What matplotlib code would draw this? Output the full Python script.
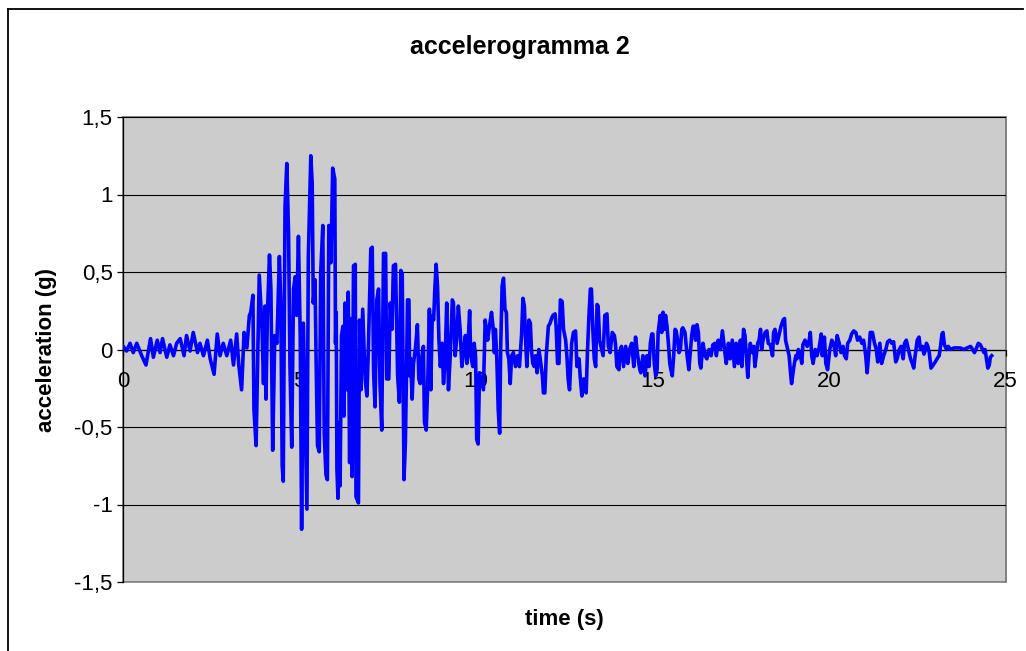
import matplotlib.pyplot as plt
from matplotlib.patches import Rectangle
from matplotlib.lines import Line2D
from matplotlib.ticker import FuncFormatter

plt.rcParams['font.family'] = ['Liberation Sans', 'DejaVu Sans']

# time (s) / acceleration (g), peak by peak
t_start = [0.01, 0.10, 0.20, 0.29, 0.39, 0.53, 0.65, 0.78, 0.86, 0.97, 1.05, 1.12,
           1.24, 1.33, 1.43, 1.52, 1.62, 1.73, 1.80, 1.90, 1.99, 2.11, 2.18, 2.28,
           2.39, 2.47, 2.58, 2.67, 2.75, 2.84, 2.94, 3.05, 3.13, 3.22, 3.28, 3.36,
           3.43, 3.51, 3.58]
a_start = [0.02, -0.01, 0.04, -0.02, 0.04, -0.04, -0.10, 0.07, -0.05, 0.06, -0.02, 0.07,
           -0.05, 0.03, -0.04, 0.04, 0.07, -0.04, 0.09, -0.01, 0.11, -0.02, 0.04, -0.04,
           0.06, -0.06, -0.16, 0.10, -0.04, 0.04, -0.04, 0.06, -0.10, 0.10, -0.10, -0.26,
           0.11, 0.01, 0.22]

t_strong = [3.62, 3.68, 3.71, 3.77, 3.86, 3.94, 3.98, 4.02, 4.05, 4.09, 4.15, 4.19,
            4.24, 4.30, 4.36, 4.43, 4.47, 4.51, 4.54, 4.59, 4.64, 4.69, 4.73, 4.78,
            4.83, 4.88, 4.92, 4.97, 5.02, 5.06, 5.11, 5.16, 5.21, 5.25, 5.32, 5.36,
            5.39, 5.44, 5.47, 5.51, 5.56, 5.60, 5.66, 5.70, 5.75, 5.79, 5.83, 5.89,
            5.94, 6.00, 6.02, 6.04, 6.06, 6.09, 6.13, 6.15, 6.19, 6.23, 6.26, 6.29,
            6.34, 6.38, 6.42, 6.45, 6.49, 6.53, 6.58, 6.60, 6.67, 6.70, 6.74, 6.79,
            6.86, 6.91, 6.95, 7.02, 7.06, 7.10, 7.14, 7.19, 7.24, 7.28, 7.33, 7.38,
            7.44, 7.47, 7.53, 7.57, 7.62, 7.66, 7.72, 7.78, 7.83]
a_strong = [0.24, 0.35, -0.39, -0.62, 0.48, 0.13, -0.22, 0.28, -0.32, 0.22, 0.61, 0.39,
            -0.65, 0.09, 0.04, 0.60, 0.30, -0.75, -0.85, 0.92, 1.20, 0.75, -0.11, -0.63,
            0.39, 0.47, 0.22, 0.73, 0.09, -1.16, 0.17, -0.43, -1.03, 0.60, 1.25, 1.07,
            0.30, 0.45, -0.06, -0.62, -0.66, 0.49, 0.80, -0.54, -0.81, -0.84, 0.80, 0.56,
            1.17, 1.10, 0.04, 0.24, -0.77, -0.96, -0.47, -0.88, 0.09, 0.15, -0.43, 0.30,
            -0.26, 0.37, -0.73, 0.20, -0.82, 0.54, 0.55, -0.95, -0.99, 0.19, -0.26, 0.26,
            -0.19, -0.30, 0.00, 0.65, 0.66, -0.15, -0.37, 0.32, 0.39, -0.22, -0.52, 0.62,
            0.62, -0.19, -0.19, 0.30, 0.13, 0.54, 0.55, -0.17, -0.34]

t_mid = [7.87, 7.91, 7.95, 7.96, 8.00, 8.04, 8.06, 8.10, 8.12, 8.15, 8.19, 8.23,
         8.29, 8.34, 8.38, 8.42, 8.47, 8.51, 8.54, 8.59, 8.63, 8.66, 8.68, 8.72,
         8.76, 8.80, 8.83, 8.87, 8.91, 8.95, 8.99, 9.04, 9.08, 9.13, 9.17, 9.22,
         9.27, 9.33, 9.36, 9.41, 9.46, 9.50, 9.55, 9.60, 9.65, 9.70, 9.74, 9.78,
         9.82, 9.85, 9.91, 9.95, 9.99, 10.02, 10.06, 10.10, 10.21, 10.26, 10.33, 10.38,
         10.44, 10.48, 10.52, 10.55, 10.59, 10.63, 10.67, 10.70, 10.74, 10.78, 10.82, 10.86,
         10.89, 10.93, 10.97, 11.01, 11.06, 11.12, 11.18, 11.23, 11.29, 11.33, 11.37, 11.40,
         11.44, 11.50, 11.54, 11.57, 11.61, 11.65, 11.69, 11.73, 11.78, 11.82, 11.88, 11.91,
         11.95, 11.99, 12.05, 12.10, 12.14, 12.18, 12.24, 12.27, 12.31, 12.35, 12.39, 12.44,
         12.48, 12.54, 12.58, 12.61, 12.65, 12.71, 12.76, 12.82, 12.86, 12.92, 12.95, 13.00,
         13.05, 13.09, 13.12, 13.16, 13.20, 13.24, 13.27, 13.31, 13.35, 13.39, 13.43, 13.46,
         13.50, 13.54, 13.60, 13.65, 13.71, 13.75, 13.80, 13.86, 13.92, 13.95, 13.99, 14.05]
a_mid = [0.51, 0.49, -0.52, -0.84, -0.60, -0.02, 0.32, 0.32, -0.17, -0.06, -0.32, -0.09,
         0.02, 0.16, -0.19, -0.22, -0.04, 0.02, -0.47, -0.52, -0.24, 0.06, 0.26, -0.26,
         0.22, 0.19, 0.37, 0.55, 0.41, 0.06, -0.11, 0.04, -0.22, -0.04, 0.30, -0.26,
         -0.04, 0.32, 0.30, -0.04, 0.09, 0.28, 0.13, -0.11, 0.00, 0.09, -0.09, 0.06,
         0.25, -0.04, -0.11, 0.04, -0.06, -0.58, -0.61, -0.15, -0.26, 0.19, 0.06, 0.15,
         0.24, 0.15, -0.02, 0.13, -0.06, -0.39, -0.54, 0.02, 0.41, 0.46, 0.26, 0.24,
         -0.02, -0.06, -0.22, -0.04, -0.02, -0.11, -0.04, -0.11, 0.09, 0.33, 0.28, 0.09,
         -0.11, 0.19, 0.17, 0.00, -0.09, -0.11, -0.04, -0.15, 0.00, -0.06, -0.17, -0.28,
         -0.28, -0.04, 0.15, 0.17, 0.20, 0.22, 0.23, 0.15, -0.09, -0.09, 0.32, 0.31,
         0.13, 0.06, -0.06, -0.19, -0.26, 0.04, 0.11, 0.12, -0.11, -0.06, -0.17, -0.30,
         -0.19, -0.26, -0.28, 0.00, 0.22, 0.39, 0.39, 0.13, -0.06, -0.11, 0.29, 0.28,
         0.06, 0.02, -0.04, 0.22, 0.23, 0.02, -0.02, 0.11, 0.09, 0.04, -0.11, -0.13]

t_late = [14.07, 14.12, 14.18, 14.24, 14.30, 14.35, 14.41, 14.47, 14.52, 14.58, 14.64, 14.67,
          14.73, 14.79, 14.84, 14.90, 14.94, 14.98, 15.01, 15.05, 15.09, 15.13, 15.16, 15.22,
          15.26, 15.30, 15.33, 15.37, 15.41, 15.45, 15.49, 15.52, 15.56, 15.60, 15.64, 15.67,
          15.71, 15.75, 15.79, 15.83, 15.86, 15.92, 15.98, 16.03, 16.07, 16.11, 16.15, 16.18,
          16.22, 16.26, 16.30, 16.34, 16.37, 16.43, 16.49, 16.54, 16.60, 16.66, 16.71, 16.77,
          16.81, 16.86, 16.92, 16.98, 17.04, 17.09, 17.15, 17.20, 17.26, 17.32, 17.37, 17.43,
          17.49, 17.53, 17.58, 17.62, 17.66, 17.70, 17.73, 17.77, 17.83, 17.87, 17.90, 17.94,
          17.98, 18.02, 18.06, 18.09, 18.13, 18.19, 18.24, 18.28, 18.34, 18.40, 18.43, 18.47,
          18.53, 18.58, 18.64, 18.70, 18.74, 18.77, 18.81, 18.87, 18.91, 18.94, 18.98, 19.02,
          19.06, 19.09, 19.13, 19.17, 19.23, 19.26, 19.32, 19.38, 19.44, 19.47, 19.51, 19.55,
          19.61, 19.66, 19.72, 19.78, 19.81, 19.87, 19.91, 19.96, 20.02, 20.08, 20.13, 20.19,
          20.23, 20.29, 20.34, 20.40, 20.44, 20.49, 20.53, 20.59, 20.64, 20.70, 20.76, 20.81,
          20.87, 20.93, 20.98, 21.04, 21.08, 21.12]
a_late = [-0.02, 0.02, -0.11, 0.02, -0.09, 0.00, 0.04, -0.11, 0.08, -0.04, -0.13, -0.15,
          -0.04, -0.17, -0.04, -0.11, 0.04, 0.10, 0.10, -0.09, -0.17, -0.13, 0.11, 0.22,
          0.11, 0.24, 0.13, 0.22, 0.15, 0.04, -0.09, -0.13, -0.17, -0.04, 0.13, 0.12,
          0.06, -0.02, 0.00, 0.13, 0.14, 0.11, -0.04, -0.13, -0.02, 0.09, 0.15, 0.15,
          0.06, 0.16, 0.11, -0.09, -0.12, 0.04, -0.04, -0.06, 0.00, -0.04, 0.03, 0.04,
          -0.04, 0.06, 0.00, 0.12, 0.00, -0.09, 0.04, -0.06, 0.06, -0.11, 0.04, -0.09,
          0.06, -0.11, 0.13, 0.09, -0.04, -0.18, -0.06, 0.04, -0.02, 0.02, -0.11, -0.04,
          0.04, 0.06, 0.13, 0.00, 0.06, 0.11, 0.12, 0.04, 0.03, -0.04, 0.11, 0.13,
          0.04, 0.09, 0.15, 0.19, 0.20, 0.06, 0.02, -0.04, -0.15, -0.22, -0.15, -0.09,
          -0.04, -0.06, 0.00, -0.02, -0.09, 0.03, 0.06, 0.02, 0.06, 0.11, -0.04, -0.09,
          0.00, -0.04, 0.01, 0.10, -0.04, 0.08, -0.09, -0.13, 0.00, 0.06, 0.04, -0.04,
          0.09, 0.04, -0.02, 0.02, -0.04, -0.06, 0.04, 0.06, 0.10, 0.12, 0.11, 0.06,
          0.08, 0.04, 0.06, -0.04, -0.15, -0.04]

t_end = [21.17, 21.23, 21.29, 21.34, 21.38, 21.44, 21.49, 21.55, 21.61, 21.66, 21.72, 21.78,
         21.83, 21.89, 21.93, 21.99, 22.04, 22.10, 22.14, 22.19, 22.25, 22.31, 22.36, 22.40,
         22.44, 22.50, 22.55, 22.59, 22.65, 22.69, 22.72, 22.76, 22.80, 22.84, 22.89, 22.95,
         23.01, 23.06, 23.12, 23.16, 23.20, 23.23, 23.27, 23.33, 23.38, 23.44, 23.54, 23.63,
         23.72, 23.82, 23.91, 24.01, 24.07, 24.12, 24.18, 24.23, 24.29, 24.35, 24.39, 24.42,
         24.46, 24.50, 24.54, 24.57, 24.61]
a_end = [0.11, 0.11, 0.04, 0.00, -0.08, 0.04, -0.09, -0.04, 0.00, 0.05, 0.06, 0.04,
         0.05, -0.08, -0.06, 0.00, 0.02, -0.06, 0.04, 0.06, 0.00, -0.06, -0.09, -0.12,
         -0.04, 0.06, 0.08, 0.00, 0.02, -0.03, -0.01, 0.04, 0.02, -0.02, -0.12, -0.10,
         -0.08, -0.06, -0.04, 0.02, 0.10, 0.11, 0.03, 0.00, 0.02, 0.00, 0.01, 0.01,
         0.01, 0.00, 0.01, 0.02, 0.00, -0.02, 0.01, 0.04, 0.03, 0.00, -0.02, 0.00,
         -0.06, -0.12, -0.10, -0.05, -0.04]

time = t_start + t_strong + t_mid + t_late + t_end
acc = a_start + a_strong + a_mid + a_late + a_end

yticks = [-1.5, -1, -0.5, 0, 0.5, 1, 1.5]
xticks = [0, 5, 10, 15, 20, 25]

W, H = 1026, 651
fig = plt.figure(figsize=(W / 100, H / 100), dpi=100)
ax = fig.add_axes([123 / W, 1 - 582 / H, (1005.5 - 123) / W, (582 - 117) / H])
ax.set_facecolor('#cccccc')

ax.plot(time, acc, color='#0000ff', lw=2.6, solid_joinstyle='round', zorder=3)

ax.set_xlim(0, 25)
ax.set_ylim(-1.5, 1.5)
ax.set_yticks(yticks)
ax.set_xticks(xticks)
ax.yaxis.set_major_formatter(FuncFormatter(lambda v, p: ('%g' % v).replace('.', ',')))
ax.grid(axis='y', color='#000000', lw=0.8, zorder=1)
ax.set_axisbelow(False)

for s in ['top', 'right']:
    ax.spines[s].set_color('#808080')
    ax.spines[s].set_linewidth(1.2)
ax.spines['left'].set_color('black')
ax.spines['left'].set_linewidth(0.9)
ax.spines['bottom'].set_position(('data', 0))
ax.spines['bottom'].set_color('black')
ax.spines['bottom'].set_linewidth(0.9)
ax.spines['bottom'].set_zorder(2)
# gray lower edge of the plot area
ax.add_patch(Rectangle((0, 0), 1, 1, transform=ax.transAxes, fill=False,
                       edgecolor='#808080', lw=1.2, zorder=0.5, clip_on=False))

ax.tick_params(axis='y', direction='out', length=4.4, width=0.9, labelsize=16, pad=3)
ax.tick_params(axis='x', direction='out', length=4.4, width=0.9, labelsize=16, pad=11)
for lab in ax.get_xticklabels():
    lab.set_zorder(5)

fig.text(520 / W, 1 - 47 / H, 'accelerogramma 2', fontsize=18, fontweight='bold',
         ha='center', va='center')
fig.text(47 / W, 1 - 350 / H, 'acceleration (g)', rotation=90, fontsize=16,
         fontweight='bold', ha='center', va='center')
fig.text(564 / W, 1 - 620 / H, 'time (s)', fontsize=16, fontweight='bold',
         ha='center', va='center')

# chart area border
fig.add_artist(Line2D([8 / W, 1023 / W], [1 - 9 / H, 1 - 9 / H], color='black', lw=1.3))
fig.add_artist(Line2D([8 / W, 8 / W], [1 - 9 / H, 0], color='black', lw=1.3))

fig.savefig('out.png', dpi=100)
